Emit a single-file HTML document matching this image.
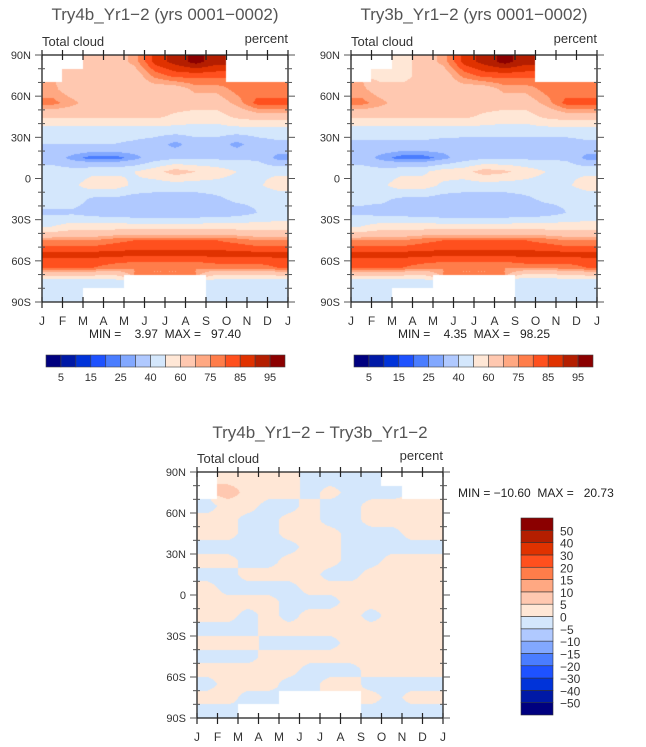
<!DOCTYPE html>
<html><head><meta charset="utf-8">
<style>
html,body{margin:0;padding:0;background:#fff;}
#wrap{position:relative;width:646px;height:747px;}
canvas{position:absolute;}
svg{position:absolute;left:0;top:0;display:block;font-family:"Liberation Sans",sans-serif;}
text{white-space:pre;}
</style></head>
<body>
<div id="wrap">
<canvas id="cA" style="left:42px;top:55px" width="246" height="247"></canvas>
<canvas id="cB" style="left:351px;top:55px" width="246" height="247"></canvas>
<canvas id="cD" style="left:197px;top:472px" width="246" height="246"></canvas>
<svg id="fig" width="646" height="747" viewBox="0 0 646 747">
<text x="165" y="20" font-size="17" fill="#555" text-anchor="middle" xml:space="preserve">Try4b_Yr1−2 (yrs 0001−0002)</text>
<text x="474" y="20" font-size="17" fill="#555" text-anchor="middle" xml:space="preserve">Try3b_Yr1−2 (yrs 0001−0002)</text>
<text x="320" y="438" font-size="17" fill="#555" text-anchor="middle" xml:space="preserve">Try4b_Yr1−2 − Try3b_Yr1−2</text>
<text x="165" y="338" font-size="12" fill="#222" text-anchor="middle" xml:space="preserve">MIN =    3.97  MAX =   97.40</text>
<text x="474" y="338" font-size="12" fill="#222" text-anchor="middle" xml:space="preserve">MIN =    4.35  MAX =   98.25</text>
<text x="458" y="497" font-size="12" fill="#222" xml:space="preserve">MIN = −10.60  MAX =   20.73</text>
</svg>
</div>
<script>
const months = ["J","F","M","A","M","J","J","A","S","O","N","D","J"];
const latCenters = [85,75,65,55,45,35,25,15,5,-5,-15,-25,-35,-45,-55,-65,-75,-85];
const latLabels = ["90N","60N","30N","0","30S","60S","90S"];
const absLevels = [5,10,15,20,25,30,40,50,60,70,75,80,85,90,95];
const absLabels = ["5","15","25","40","60","75","85","95"];
const diffLevels = [-50,-40,-30,-20,-15,-10,-5,0,5,10,15,20,30,40,50];
const diffLabels = ["−50","−40","−30","−20","−15","−10","−5","0","5","10","15","20","30","40","50"];
const colors = ["#00007f","#0019a6","#0033d9","#1e52ff","#4a7dff","#82a8ff","#b0c9ff","#d4e7fc","#ffe7d6","#ffc8b0","#ffa882","#ff7d4a","#ff501e","#e03200","#b41e00","#8b0000"];
const N = null;
const cloudA = [
[N,N,65,65,72,87,92,97,92,N,N,N],
[N,65,65,65,65,77,82,82,82,N,N,N],
[72,65,65,65,65,65,65,72,72,77,77,77],
[77,72,65,65,65,65,65,65,65,72,82,82],
[62,62,62,62,62,62,58,55,55,62,65,65],
[45,45,45,45,45,45,45,45,45,45,45,45],
[40,40,40,40,38,35,27,35,35,27,35,38],
[35,27,22,22,27,35,38,38,38,38,38,27],
[45,45,48,48,50,56,65,60,56,50,48,48],
[48,48,55,55,48,45,45,45,45,45,48,55],
[45,45,38,38,35,35,35,35,38,42,42,42],
[38,38,35,33,32,32,32,32,33,35,40,42],
[50,55,55,55,55,55,55,55,55,55,55,55],
[75,75,75,78,80,80,80,80,80,78,75,75],
[87,87,87,87,87,87,87,87,87,87,87,87],
[80,80,80,77,75,75,75,75,77,77,77,80],
[45,45,45,45,N,N,N,N,45,45,45,45],
[42,42,N,N,N,N,N,N,42,42,42,42]];
const cloudB = [
[N,N,55,65,72,87,92,97,92,N,N,N],
[N,55,55,65,65,77,82,82,82,N,N,N],
[72,65,65,65,65,65,65,72,72,77,77,77],
[77,72,65,65,65,65,65,65,65,72,82,82],
[62,62,62,62,62,62,58,55,55,62,65,65],
[45,45,45,45,45,45,45,45,45,45,45,45],
[38,38,38,38,36,35,35,35,35,35,35,38],
[35,27,22,22,27,35,38,38,38,38,38,27],
[45,45,48,48,55,56,65,62,56,50,48,48],
[48,48,55,55,48,45,45,45,45,45,48,55],
[42,42,38,38,35,35,35,35,38,42,42,42],
[38,36,35,33,32,32,32,32,33,35,40,42],
[50,55,55,55,55,55,55,55,55,55,55,55],
[75,75,75,78,80,80,80,80,80,78,75,75],
[87,87,87,87,87,87,87,87,87,87,87,87],
[80,80,80,77,75,75,75,75,77,77,77,80],
[45,45,45,45,N,N,N,N,40,40,45,45],
[42,42,N,N,N,N,N,N,42,42,42,42]];
const cloudDiff = [
[N,3,3,2,2,-2,-2,-2,-2,N,N,N],
[N,8,3,2,2,-2,2,-2,-2,-2,N,N],
[-2,2,2,-2,-2,2,-2,-2,2,2,2,2],
[2,2,-2,-2,2,2,-2,-2,2,2,2,2],
[2,2,-2,-2,2,2,2,-2,-2,-2,2,2],
[-2,-2,-2,-2,-2,2,2,-2,-2,-2,-2,-2],
[2,2,-2,-2,2,2,2,-2,-2,2,2,2],
[-2,-2,2,2,2,2,-2,-2,2,2,2,2],
[2,-2,-2,-2,-2,2,2,2,2,2,2,2],
[2,2,2,2,-2,-2,-2,2,2,2,2,2],
[2,2,-2,2,-2,2,2,2,-2,2,2,2],
[-2,-2,-2,2,2,2,2,2,2,2,2,2],
[2,2,2,-2,-2,-2,-2,2,2,2,2,2],
[-2,-2,-2,2,2,2,2,2,2,2,2,2],
[2,2,2,2,2,-2,-2,-2,2,2,2,2],
[-2,2,2,2,-2,-2,2,2,-2,-2,-2,-2],
[2,2,-2,-2,N,N,N,N,2,-2,2,2],
[-2,-2,N,N,N,N,N,N,-2,-2,-2,-2]];

const NS="http://www.w3.org/2000/svg";
const svg=document.getElementById('fig');
function mk(tag,attrs,parent){const e=document.createElementNS(NS,tag);for(const k in attrs)e.setAttribute(k,attrs[k]);(parent||svg).appendChild(e);return e;}
function colorIdx(v,levels){let i=0;while(i<levels.length&&v>=levels[i])i++;return i;}
function hexRGB(h){return [parseInt(h.substr(1,2),16),parseInt(h.substr(3,2),16),parseInt(h.substr(5,2),16)];}
const rgb=colors.map(hexRGB);

function fill(canvasId,data,levels){
  const cv=document.getElementById(canvasId);
  const w=cv.width,h=cv.height;
  const ctx=cv.getContext('2d');
  const img=ctx.createImageData(w,h);
  const nr=data.length,nc=data[0].length;
  for(let py=0;py<h;py++){
    const lat=90-(py+0.5)*180/h;
    const rf=(85-lat)/10;
    const r0=Math.max(0,Math.min(nr-1,Math.floor(rf))),r1=Math.max(0,Math.min(nr-1,Math.floor(rf)+1));
    const tr=Math.max(0,Math.min(1,rf-Math.floor(rf)));
    const rn=Math.max(0,Math.min(nr-1,Math.round(rf)));
    for(let px=0;px<w;px++){
      const cf=(px+0.5)*nc/w-0.5;
      const cn=Math.max(0,Math.min(nc-1,Math.round(cf)));
      const k=(py*w+px)*4;
      if(data[rn][cn]===null){img.data[k]=255;img.data[k+1]=255;img.data[k+2]=255;img.data[k+3]=255;continue;}
      const c0=Math.max(0,Math.min(nc-1,Math.floor(cf))),c1=Math.max(0,Math.min(nc-1,Math.floor(cf)+1));
      const tc=Math.max(0,Math.min(1,cf-Math.floor(cf)));
      const pts=[[r0,c0,(1-tr)*(1-tc)],[r0,c1,(1-tr)*tc],[r1,c0,tr*(1-tc)],[r1,c1,tr*tc]];
      let s=0,ws=0;
      pts.forEach(p=>{const v=data[p[0]][p[1]];if(v!==null){s+=v*p[2];ws+=p[2];}});
      const v=ws>0?s/ws:data[rn][cn];
      const c=rgb[colorIdx(v,levels)];
      img.data[k]=c[0];img.data[k+1]=c[1];img.data[k+2]=c[2];img.data[k+3]=255;
    }
  }
  ctx.putImageData(img,0,0);
}

function panel(name,x0,y0,w,h){
  const g=mk('g',{});
  
  
  const xs=m=>x0+m*w/12;
  const ys=lat=>y0+(90-lat)*h/180;
  const fr=mk('rect',{x:x0,y:y0,width:w,height:h,fill:'none',stroke:'#222','stroke-width':1.3},g);
  
  
  for(let m=0;m<=12;m++){
    const x=xs(m);
    mk('line',{x1:x,y1:y0+h-5,x2:x,y2:y0+h+6,stroke:'#222','stroke-width':1.2},g);
    mk('line',{x1:x,y1:y0-5,x2:x,y2:y0+5,stroke:'#222','stroke-width':1.2},g);
    const t=mk('text',{x:x,y:y0+h+23,'font-size':12,fill:'#333','text-anchor':'middle'},g);
    t.textContent=months[m];
    
    
  }
  for(let lat=90;lat>=-90;lat-=10){
    const y=ys(lat);const major=lat%30===0;
    const L=major?7:4;
    mk('line',{x1:x0-L,y1:y,x2:x0+(major?0:3),y2:y,stroke:'#555','stroke-width':1},g);
    mk('line',{x1:x0+w-(major?0:3),y1:y,x2:x0+w+L,y2:y,stroke:'#555','stroke-width':1},g);
  }
  latLabels.forEach((lb,i)=>{
    const t=mk('text',{x:x0-11,y:ys(90-30*i)+4,'font-size':11,fill:'#333','text-anchor':'end'},g);
    t.textContent=lb;
    
    
  });
  const a=mk('text',{x:x0,y:y0-9,'font-size':13,fill:'#333'},g);a.textContent='Total cloud';
  
  
  const b=mk('text',{x:x0+w,y:y0-12,'font-size':13,fill:'#333','text-anchor':'end'},g);b.textContent='percent';
  
  
}
function hbar(name,x0,y0,w,h){
  const g=mk('g',{});
  
  
  const bw=w/16;
  colors.forEach((c,i)=>{
    const r=mk('rect',{x:x0+i*bw,y:y0,width:bw,height:h,fill:c,stroke:'#444','stroke-width':0.6},g);
    
    
  });
  absLabels.forEach((lb,i)=>{
    const t=mk('text',{x:x0+(2*i+1)*bw,y:y0+h+14,'font-size':11,fill:'#333','text-anchor':'middle'},g);
    t.textContent=lb;
    
    
  });
}
function vbar(name,x0,y0,w,h){
  const g=mk('g',{});
  
  
  const bh=h/16;
  colors.forEach((c,i)=>{
    const r=mk('rect',{x:x0,y:y0+h-(i+1)*bh,width:w,height:bh,fill:c,stroke:'#333','stroke-width':0.6},g);
    
    
  });
  diffLabels.forEach((lb,i)=>{
    const t=mk('text',{x:x0+w+7,y:y0+h-(i+1)*bh+5,'font-size':12,fill:'#333'},g);
    t.textContent=lb;
    
    
  });
}
fill('cA',cloudA,absLevels);
fill('cB',cloudB,absLevels);
fill('cD',cloudDiff,diffLevels);
panel('panel-try4b',42,55,246,247);
panel('panel-try3b',351,55,246,247);
panel('panel-diff',197,472,246,246);
hbar('colorbar-left',46,355,239,12);
hbar('colorbar-right',354,355,239,12);
vbar('colorbar-diff',521,518,32,197);
</script>
</body></html>
